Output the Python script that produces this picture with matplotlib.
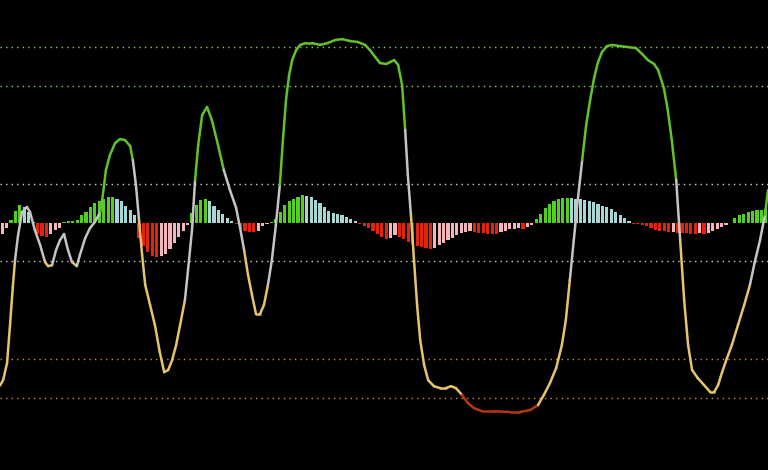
import matplotlib
matplotlib.use("Agg")
import matplotlib.pyplot as plt
from matplotlib.collections import LineCollection

# histogram, one value per bar
hist = [-6, -3, 1.5, 6, 9, 8, 5.5, 0.5, -6, -7, -7.5, -6, -4, -3, 0.5, 1, 1, 1.5, 4, 5.5,
        8, 10, 11, 12, 13, 13.2, 12, 11, 8.5, 6.5, 4, -8, -12, -15, -17, -17.6, -17.3, -16, -13.5, -10.5,
        -7.5, -4.5, -1.5, 5, 9, 11.5, 12, 11, 8.5, 6.5, 4.5, 2.5, 1, -0.5, -3.5, -4.5, -5, -5.1, -4.5, -2,
        -1, 0.5, 2, 5.5, 9, 11, 12, 13, 14, 13.9, 13, 11.5, 10, 8, 6, 5, 4.5, 4, 3, 2,
        1, -0.5, -2, -3, -4.5, -6, -7.5, -8.5, -8, -6.5, -7.5, -8.5, -10, -11, -12, -12.7, -13, -13.5, -13, -11.5,
        -10.5, -9, -8, -6.5, -5.5, -5, -4.3, -5, -5.5, -5.6, -5.7, -5.8, -5.9, -5, -4.3, -3.5, -3.2, -3, -3.5, -2.5,
        -1.5, 2, 4.5, 7.5, 9.5, 11, 12, 12.5, 12.7, 12.5, 12, 11.9, 11.5, 11, 10.5, 9.5, 8.5, 8, 7, 5.5,
        4, 2.5, 1, -0.5, -1, -1.5, -2, -3, -4, -4.5, -4.6, -5, -4.8, -5.2, -5.5, -5.6, -6, -6.1, -5.5, -6,
        -5.5, -4.3, -3.5, -2.5, -1.5, -0.3, 2.5, 4, 4.5, 5.5, 6, 6.5, 6.6, 7]

# oscillator line: bar position and value
line_t = [-0.5, 0.2, 1.1, 1.8, 2.4, 2.9, 3.6, 4.5, 5.6, 6.3, 7.4, 8.6, 9.7, 10.4, 11.3, 12.2, 13.1, 14.0,
          14.9, 15.8, 16.9, 17.6, 18.8, 19.9, 21.0, 22.2, 22.8, 23.5, 24.4, 25.6, 26.7, 27.8, 29.0, 29.6,
          30.3, 31.0, 31.7, 32.4, 33.5, 34.6, 35.7, 36.7, 37.6, 38.5, 39.4, 40.3, 41.4, 42.1, 43.0, 43.7,
          44.4, 45.3, 46.4, 47.5, 48.9, 50.2, 51.6, 53.0, 53.9, 54.8, 55.7, 56.6, 57.5, 58.4, 59.3, 60.2,
          61.1, 62.0, 62.9, 63.6, 64.3, 65.0, 65.7, 66.6, 67.5, 68.8, 70.2, 72.0, 73.8, 75.4, 77.0, 78.8,
          80.6, 82.2, 83.3, 84.5, 85.6, 87.0, 87.9, 88.8, 89.7, 90.6, 91.3, 91.9, 92.6, 93.3, 94.0, 94.7,
          95.6, 96.5, 97.8, 99.2, 100.5, 101.7, 102.8, 104.2, 105.5, 106.9, 108.7, 111.6, 115.0, 117.3,
          119.6, 121.4, 122.7, 124.1, 125.5, 126.8, 127.7, 128.6, 129.5, 130.4, 131.4, 132.3, 133.2, 134.1,
          135.0, 135.9, 137.0, 138.2, 140.0, 141.8, 143.6, 145.0, 146.3, 147.7, 148.6, 149.9, 150.8, 151.7,
          152.7, 153.6, 154.5, 155.4, 156.3, 157.6, 159.0, 160.4, 161.3, 162.2, 163.1, 164.2, 165.3, 166.7,
          168.1, 169.4, 170.5, 171.7, 172.8, 173.5]
line_v = [-83.8, -81.0, -72.2, -51.7, -33.2, -19.3, -6.4, 5.4, 8.0, 5.4, -3.9, -11.6, -20.3, -22.4, -21.9,
          -14.1, -9.0, -5.9, -14.1, -20.3, -22.4, -16.7, -8.0, -2.8, 0.3, 5.4, 14.1, 27.0, 34.7, 40.9, 42.9,
          42.4, 39.3, 32.1, 19.3, 1.3, -16.7, -32.1, -42.4, -52.7, -66.6, -76.9, -75.8, -70.7, -63.0, -52.7,
          -39.8, -24.4, -3.9, 21.9, 39.8, 55.3, 59.4, 52.7, 39.8, 27.0, 16.7, 7.5, -2.8, -14.1, -27.0, -37.3,
          -47.0, -47.0, -42.4, -32.1, -19.3, -1.3, 19.3, 42.4, 63.0, 75.8, 83.5, 88.7, 91.3, 92.3, 92.3, 91.3,
          92.3, 93.8, 94.3, 93.3, 92.8, 91.3, 88.7, 85.1, 82.0, 81.5, 82.5, 83.5, 81.0, 70.7, 47.6, 24.4, 3.9,
          -19.3, -42.4, -60.4, -73.3, -81.0, -84.1, -85.1, -85.1, -84.1, -85.1, -88.7, -92.8, -95.4, -97.0,
          -97.0, -97.4, -97.4, -96.4, -93.8, -88.7, -82.5, -74.8, -63.0, -50.1, -29.6, -9.0, 11.6, 32.1, 50.1,
          63.0, 74.3, 82.5, 87.7, 90.7, 91.3, 90.7, 90.2, 89.7, 86.6, 83.5, 81.5, 78.4, 69.2, 57.8, 42.4, 21.9,
          -9.0, -39.8, -63.0, -75.8, -80.0, -83.5, -87.1, -87.1, -83.5, -76.9, -69.7, -63.0, -52.7, -42.4,
          -32.1, -20.3, -9.0, 3.9, 16.7]

# line colour changes (bar position where a new colour starts)
state_start = [-1, 3.1, 9.9, 11.3, 15.8, 17.2, 22.2, 29.6, 31.2, 41.4, 43.7, 49.8, 55.0, 60.2, 62.9,
               91.0, 92.8, 104.2, 121.4, 128.2, 131.4, 152.4, 154.0, 169.4, 172.3]
state = ["low", "mid", "low", "mid", "low", "mid", "up", "mid", "low", "mid", "up", "mid", "low", "mid",
         "up", "mid", "low", "xlow", "low", "mid", "up", "mid", "low", "mid", "up"]

levels = [90, 70, 20, -20, -70, -90]
level_colors = ["#8fd14f", "#8fd14f", "#d0d0d0", "#d0d0d0", "#c98a4b", "#c98a4b"]

line_colors = {"up": "#62c22e", "mid": "#c4c4c4", "low": "#e6c46c", "xlow": "#b8360f"}

fig = plt.figure(figsize=(7.68, 4.70), dpi=100, facecolor="black")
ax = fig.add_axes([0, 0, 1, 1])
ax.set_facecolor("black")

for lv, c in zip(levels, level_colors):
    ax.axhline(lv, color=c, lw=1, ls=(0, (1, 3)), zorder=1)

# bar colours: rising/falling above and below zero
bar_colors = []
for i, h in enumerate(hist):
    prev = hist[i - 1] if i > 0 else h
    if h >= 0:
        bar_colors.append("#52cf1f" if h >= prev else "#a8d6d4")
    else:
        bar_colors.append("#e4220e" if h < prev else "#f4b6ba")
ax.bar(range(len(hist)), hist, width=0.72, color=bar_colors, zorder=2)

segs = []
seg_colors = []
for k in range(len(line_t) - 1):
    mid = (line_t[k] + line_t[k + 1]) / 2
    s = state[0]
    for st, name in zip(state_start, state):
        if mid >= st:
            s = name
    segs.append([(line_t[k], line_v[k]), (line_t[k + 1], line_v[k + 1])])
    seg_colors.append(line_colors[s])
lc = LineCollection(segs, colors=seg_colors, linewidths=1.8, capstyle="round", joinstyle="round", zorder=3)
ax.add_collection(lc)

ax.set_xlim(-0.5, len(hist) - 0.5)
ax.set_ylim(-127.2, 114.4)
ax.axis("off")

fig.savefig("out.png", dpi=100, facecolor="black")
